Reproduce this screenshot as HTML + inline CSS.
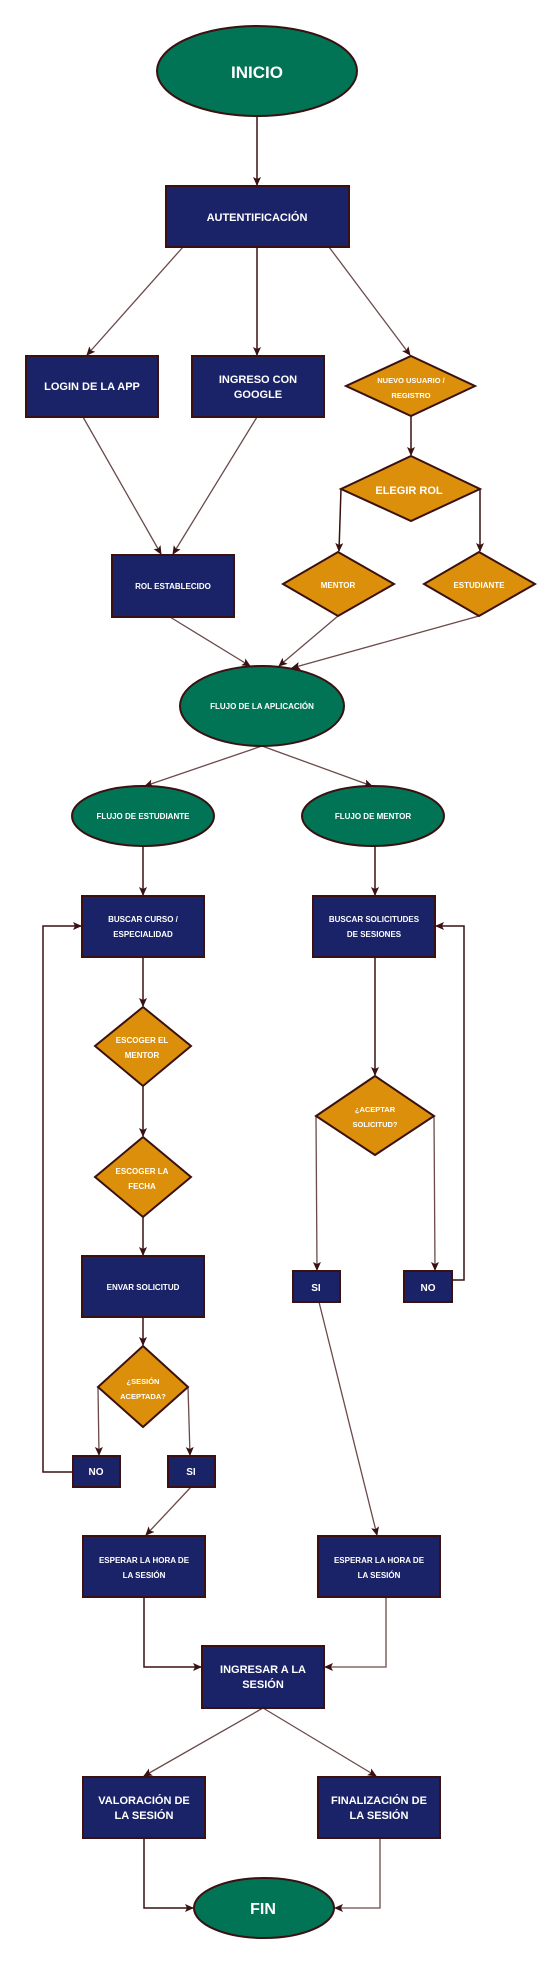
<!DOCTYPE html>
<html><head><meta charset="utf-8"><style>
html,body{margin:0;padding:0;background:#fff}
svg{display:block}
text{font-family:"Liberation Sans",Arial,sans-serif;font-weight:bold;fill:#fff;text-anchor:middle}
.r{fill:#1b2368;stroke:#3a1010;stroke-width:2}
.e{fill:#017455;stroke:#3a1010;stroke-width:2}
.d{fill:#dc8f0a;stroke:#3a1010;stroke-width:2}
.l{stroke:#6b4a4a;stroke-width:1.3;fill:none}
.k{stroke:#3a1010;stroke-width:1.5;fill:none}
</style></head><body>
<svg width="558" height="1963" viewBox="0 0 558 1963" xmlns="http://www.w3.org/2000/svg">
<defs><marker id="a" markerWidth="10" markerHeight="10" refX="8" refY="4" orient="auto" markerUnits="userSpaceOnUse"><path d="M0,0 L9,4 L0,8 L2,4 z" fill="#3a1010"/></marker></defs>
<g marker-end="url(#a)">
<line class="k" x1="257" y1="117" x2="257" y2="185"/>
<line class="l" x1="183" y1="247" x2="87" y2="355"/>
<line class="k" x1="257" y1="247" x2="257" y2="355"/>
<line class="l" x1="329" y1="247" x2="410" y2="355"/>
<line class="l" x1="83" y1="417" x2="161" y2="554"/>
<line class="l" x1="257" y1="417" x2="173" y2="554"/>
<line class="k" x1="411" y1="416" x2="411" y2="455"/>
<line class="k" x1="341" y1="489" x2="339" y2="551"/>
<line class="k" x1="480" y1="489" x2="480" y2="551"/>
<line class="l" x1="170" y1="617" x2="250" y2="666"/>
<line class="l" x1="338" y1="616" x2="279" y2="666"/>
<line class="l" x1="479" y1="616" x2="292" y2="668"/>
<line class="l" x1="262" y1="746" x2="145" y2="786"/>
<line class="l" x1="262" y1="746" x2="372" y2="786"/>
<line class="k" x1="143" y1="846" x2="143" y2="895"/>
<line class="k" x1="375" y1="846" x2="375" y2="895"/>
<line class="k" x1="143" y1="957" x2="143" y2="1006"/>
<line class="k" x1="143" y1="1086" x2="143" y2="1136"/>
<line class="k" x1="143" y1="1217" x2="143" y2="1255"/>
<line class="k" x1="143" y1="1317" x2="143" y2="1345"/>
<line class="k" x1="375" y1="957" x2="375" y2="1075"/>
<line class="l" x1="316" y1="1116" x2="317" y2="1270"/>
<line class="l" x1="434" y1="1116" x2="435" y2="1270"/>
<polyline class="k" points="452,1280 464,1280 464,926 436,926"/>
<polyline class="k" points="73,1472 43,1472 43,926 81,926"/>
<line class="l" x1="98" y1="1387" x2="99" y2="1455"/>
<line class="l" x1="188" y1="1387" x2="190" y2="1455"/>
<line class="l" x1="191" y1="1487" x2="146" y2="1535"/>
<line class="l" x1="319" y1="1302" x2="377" y2="1535"/>
<polyline class="k" points="144,1597 144,1667 201,1667"/>
<polyline class="l" points="386,1597 386,1667 325,1667"/>
<line class="l" x1="263" y1="1708" x2="144" y2="1776"/>
<line class="l" x1="263" y1="1708" x2="376" y2="1776"/>
<polyline class="k" points="144,1838 144,1908 193,1908"/>
<polyline class="l" points="380,1838 380,1908 335,1908"/>
</g>
<ellipse class="e" cx="257" cy="71" rx="100" ry="45"/>
<text x="257" y="78" font-size="17">INICIO</text>
<rect class="r" x="166" y="186" width="183" height="61"/>
<text x="257" y="221" font-size="11">AUTENTIFICACIÓN</text>
<rect class="r" x="26" y="356" width="132" height="61"/>
<text x="92" y="390" font-size="11">LOGIN DE LA APP</text>
<rect class="r" x="192" y="356" width="132" height="61"/>
<text x="258" y="383" font-size="11">INGRESO CON</text><text x="258" y="398" font-size="11">GOOGLE</text>
<polygon class="d" points="411,356 475,386 411,416 346,386"/>
<text x="411" y="383" font-size="7.5">NUEVO USUARIO /</text><text x="411" y="398" font-size="7.5">REGISTRO</text>
<polygon class="d" points="411,456 480,489 411,521 341,489"/>
<text x="409" y="494" font-size="11">ELEGIR ROL</text>
<rect class="r" x="112" y="555" width="122" height="62"/>
<text x="173" y="589" font-size="8">ROL ESTABLECIDO</text>
<polygon class="d" points="338,552 394,584 338,616 283,584"/>
<text x="338" y="588" font-size="8">MENTOR</text>
<polygon class="d" points="479,552 535,584 479,616 424,584"/>
<text x="479" y="588" font-size="8">ESTUDIANTE</text>
<ellipse class="e" cx="262" cy="706" rx="82" ry="40"/>
<text x="262" y="709" font-size="8">FLUJO DE LA APLICACIÓN</text>
<ellipse class="e" cx="143" cy="816" rx="71" ry="30"/>
<text x="143" y="819" font-size="8">FLUJO DE ESTUDIANTE</text>
<ellipse class="e" cx="373" cy="816" rx="71" ry="30"/>
<text x="373" y="819" font-size="8">FLUJO DE MENTOR</text>
<rect class="r" x="82" y="896" width="122" height="61"/>
<text x="143" y="922" font-size="8">BUSCAR CURSO /</text><text x="143" y="937" font-size="8">ESPECIALIDAD</text>
<rect class="r" x="313" y="896" width="122" height="61"/>
<text x="374" y="922" font-size="8">BUSCAR SOLICITUDES</text><text x="374" y="937" font-size="8">DE SESIONES</text>
<polygon class="d" points="143,1007 191,1046 143,1086 95,1046"/>
<text x="142" y="1043" font-size="8">ESCOGER EL</text><text x="142" y="1058" font-size="8">MENTOR</text>
<polygon class="d" points="143,1137 191,1177 143,1217 95,1177"/>
<text x="142" y="1174" font-size="8">ESCOGER LA</text><text x="142" y="1189" font-size="8">FECHA</text>
<rect class="r" x="82" y="1256" width="122" height="61"/>
<text x="143" y="1290" font-size="8">ENVAR SOLICITUD</text>
<polygon class="d" points="143,1346 188,1387 143,1427 98,1387"/>
<text x="143" y="1384" font-size="7.5">¿SESIÓN</text><text x="143" y="1399" font-size="7.5">ACEPTADA?</text>
<polygon class="d" points="375,1076 434,1116 375,1155 316,1116"/>
<text x="375" y="1112" font-size="7.5">¿ACEPTAR</text><text x="375" y="1127" font-size="7.5">SOLICITUD?</text>
<rect class="r" x="293" y="1271" width="47" height="31"/>
<text x="316" y="1291" font-size="10">SI</text>
<rect class="r" x="404" y="1271" width="48" height="31"/>
<text x="428" y="1291" font-size="10">NO</text>
<rect class="r" x="73" y="1456" width="47" height="31"/>
<text x="96" y="1475" font-size="10">NO</text>
<rect class="r" x="168" y="1456" width="47" height="31"/>
<text x="191" y="1475" font-size="10">SI</text>
<rect class="r" x="83" y="1536" width="122" height="61"/>
<text x="144" y="1563" font-size="8">ESPERAR LA HORA DE</text><text x="144" y="1578" font-size="8">LA SESIÓN</text>
<rect class="r" x="318" y="1536" width="122" height="61"/>
<text x="379" y="1563" font-size="8">ESPERAR LA HORA DE</text><text x="379" y="1578" font-size="8">LA SESIÓN</text>
<rect class="r" x="202" y="1646" width="122" height="62"/>
<text x="263" y="1673" font-size="11">INGRESAR A LA</text><text x="263" y="1688" font-size="11">SESIÓN</text>
<rect class="r" x="83" y="1777" width="122" height="61"/>
<text x="144" y="1804" font-size="11">VALORACIÓN DE</text><text x="144" y="1819" font-size="11">LA SESIÓN</text>
<rect class="r" x="318" y="1777" width="122" height="61"/>
<text x="379" y="1804" font-size="11">FINALIZACIÓN DE</text><text x="379" y="1819" font-size="11">LA SESIÓN</text>
<ellipse class="e" cx="264" cy="1908" rx="70" ry="30"/>
<text x="263" y="1914" font-size="16">FIN</text>
</svg>
</body></html>
